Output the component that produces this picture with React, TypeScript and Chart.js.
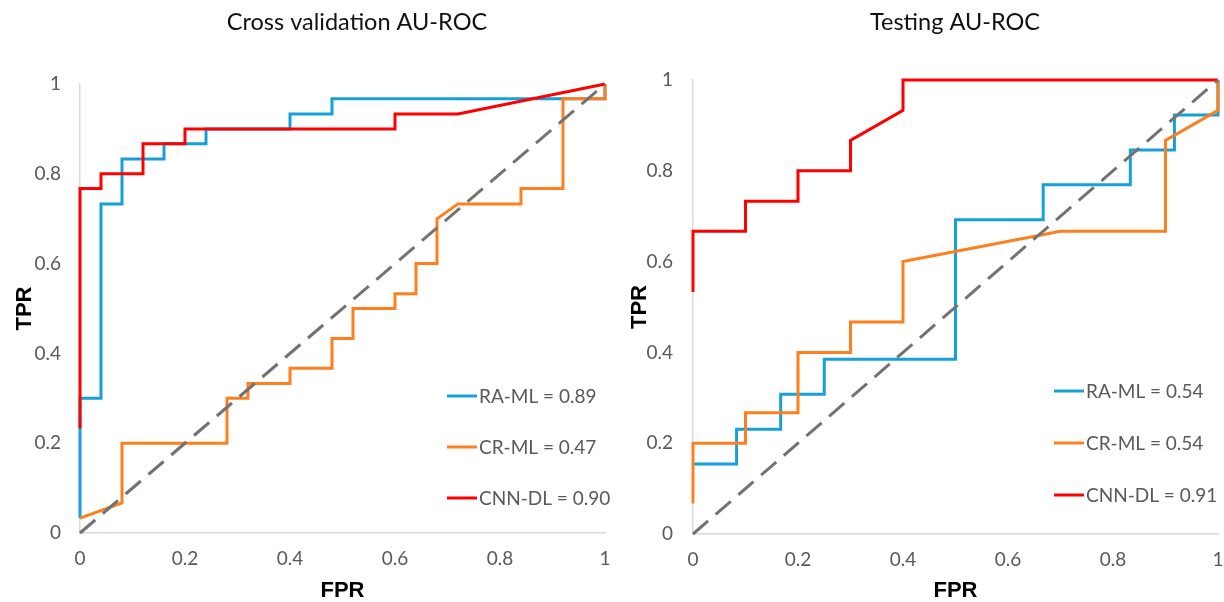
import React, { useEffect, useRef } from 'react';
import { Chart, registerables } from 'chart.js';

Chart.register(...registerables);

// ---------- data ----------
const tickValues = [0, 0.2, 0.4, 0.6, 0.8, 1];
const tickLabels = ['0', '0.2', '0.4', '0.6', '0.8', '1'];
const seriesNames = ['RA-ML', 'CR-ML', 'CNN-DL'];
const seriesColors = ['#16A0DA', '#FF7F1E', '#FF0000'];
const cvAuc = ['0.89', '0.47', '0.90'];
const testAuc = ['0.54', '0.54', '0.91'];
const diagFpr = [0, 1];
const diagTpr = [0, 1];

// Cross validation
const cvRaFpr = [0, 0, 0.04, 0.04, 0.08, 0.08, 0.16, 0.16, 0.24, 0.24, 0.4, 0.4, 0.48, 0.48, 1, 1];
const cvRaTpr = [0.033, 0.3, 0.3, 0.733, 0.733, 0.833, 0.833, 0.867, 0.867, 0.9, 0.9, 0.933, 0.933, 0.967, 0.967, 1];
const cvCrFpr = [0, 0.08, 0.08, 0.28, 0.28, 0.32, 0.32, 0.4, 0.4, 0.48, 0.48, 0.52, 0.52, 0.6, 0.6, 0.64, 0.64, 0.68, 0.68, 0.72, 0.84, 0.84, 0.92, 0.92, 1, 1];
const cvCrTpr = [0.033, 0.067, 0.2, 0.2, 0.3, 0.3, 0.333, 0.333, 0.367, 0.367, 0.433, 0.433, 0.5, 0.5, 0.533, 0.533, 0.6, 0.6, 0.7, 0.733, 0.733, 0.767, 0.767, 0.967, 0.967, 1];
const cvCnnFpr = [0, 0, 0.04, 0.04, 0.12, 0.12, 0.2, 0.2, 0.6, 0.6, 0.72, 1];
const cvCnnTpr = [0.233, 0.767, 0.767, 0.8, 0.8, 0.867, 0.867, 0.9, 0.9, 0.933, 0.933, 1];

// Testing
const teRaFpr = [0, 0.083, 0.083, 0.167, 0.167, 0.25, 0.25, 0.5, 0.5, 0.667, 0.667, 0.833, 0.833, 0.917, 0.917, 1, 1];
const teRaTpr = [0.154, 0.154, 0.231, 0.231, 0.308, 0.308, 0.385, 0.385, 0.692, 0.692, 0.769, 0.769, 0.846, 0.846, 0.923, 0.923, 1];
const teCrFpr = [0, 0, 0.1, 0.1, 0.2, 0.2, 0.3, 0.3, 0.4, 0.4, 0.7, 0.9, 0.9, 1, 1];
const teCrTpr = [0.067, 0.2, 0.2, 0.267, 0.267, 0.4, 0.4, 0.467, 0.467, 0.6, 0.667, 0.667, 0.867, 0.933, 1];
const teCnnFpr = [0, 0, 0.1, 0.1, 0.2, 0.2, 0.3, 0.3, 0.4, 0.4, 1];
const teCnnTpr = [0.533, 0.667, 0.667, 0.733, 0.733, 0.8, 0.8, 0.867, 0.933, 1, 1];

const zip = (xs: number[], ys: number[]) => xs.map((x, i) => ({ x, y: ys[i] }));

const decorPlugin = {
  id: 'rocDecor',
  afterDatasetsDraw(chart: any, _args: any, opts: any) {
    const ctx = chart.ctx;
    ctx.save();
    ctx.font = `${opts.titleSize}px Lato`;
    ctx.fillStyle = '#111111';
    ctx.textAlign = 'center';
    ctx.textBaseline = 'middle';
    ctx.fillText(opts.title, opts.titleX, opts.titleY);
    const items = chart.data.datasets.filter((d: any) => d.inLegend);
    items.forEach((d: any, i: number) => {
      const y = opts.legendY + i * opts.legendGap;
      ctx.strokeStyle = d.borderColor;
      ctx.lineWidth = 3;
      ctx.beginPath();
      ctx.moveTo(opts.legendX, y);
      ctx.lineTo(opts.legendX + 30, y);
      ctx.stroke();
      ctx.fillStyle = '#595959';
      ctx.font = `${opts.legendSize}px Lato`;
      ctx.textAlign = 'left';
      ctx.textBaseline = 'middle';
      ctx.fillText(d.label, opts.legendX + 32, y + 1);
    });
    ctx.restore();
  },
};

function makeConfig(p: any) {
  const curves = [
    { fpr: p.ra[0], tpr: p.ra[1] },
    { fpr: p.cr[0], tpr: p.cr[1] },
    { fpr: p.cnn[0], tpr: p.cnn[1] },
  ];
  const datasets: any[] = curves.map((c, i) => ({
    label: `${seriesNames[i]} = ${p.auc[i]}`,
    data: zip(c.fpr, c.tpr),
    borderColor: seriesColors[i],
    backgroundColor: seriesColors[i],
    borderWidth: 3,
    showLine: true,
    pointRadius: 0,
    tension: 0,
    clip: false,
    inLegend: true,
    order: [3, 2, 1][i],
  }));
  datasets.push({
    label: 'diag',
    data: zip(diagFpr, diagTpr),
    borderColor: '#767171',
    borderWidth: 3,
    borderDash: [20, 10],
    showLine: true,
    pointRadius: 0,
    clip: false,
    inLegend: false,
    order: 0,
  });
  const tickFont = { family: 'Lato', size: 19 };
  const titleFont = { family: 'Liberation Sans', size: 22, weight: 'bold' as const, lineHeight: 1 };
  return {
    type: 'scatter' as const,
    data: { datasets },
    options: {
      animation: false,
      responsive: false,
      layout: { padding: { top: p.top, right: p.right, left: 0, bottom: 0 } },
      plugins: {
        legend: { display: false },
        title: { display: false },
        tooltip: { enabled: false },
        rocDecor: p.decor,
      },
      scales: {
        x: {
          type: 'linear',
          min: 0,
          max: 1,
          afterBuildTicks: (s: any) => { s.ticks = tickValues.map((v) => ({ value: v })); },
          afterFit: (s: any) => { s.height = p.xAxisH; s.paddingLeft = 0; s.paddingRight = 0; },
          ticks: {
            callback: (_v: any, i: number) => tickLabels[i],
            color: '#595959',
            font: tickFont,
            padding: 14,
            maxRotation: 0,
          },
          grid: { display: false, drawTicks: false },
          border: { display: true, color: '#d9d9d9', width: 1.5 },
          title: { display: true, text: 'FPR', color: '#000', font: titleFont, padding: { top: 0, bottom: 0 } },
        },
        y: {
          type: 'linear',
          min: 0,
          max: 1,
          afterBuildTicks: (s: any) => { s.ticks = tickValues.map((v) => ({ value: v })); },
          afterFit: (s: any) => { s.width = p.yAxisW; s.paddingTop = 0; s.paddingBottom = 0; },
          ticks: {
            callback: (_v: any, i: number) => tickLabels[i],
            color: '#595959',
            font: tickFont,
            padding: p.yTickPad,
          },
          grid: { display: false, drawTicks: false },
          border: { display: true, color: '#d9d9d9', width: 1.5 },
          title: { display: true, text: 'TPR', color: '#000', font: titleFont, padding: { top: p.yTitlePad, bottom: 0 } },
        },
      },
    },
    plugins: [decorPlugin],
  };
}

function RocChart(props: { cfg: any }) {
  const ref = useRef<HTMLCanvasElement>(null);
  useEffect(() => {
    const chart = new Chart(ref.current as HTMLCanvasElement, makeConfig(props.cfg) as any);
    return () => chart.destroy();
  }, []);
  return <canvas ref={ref} width={612} height={602} style={{ display: 'block', width: 612, height: 602 }} />;
}

const leftCfg = {
  ra: [cvRaFpr, cvRaTpr],
  cr: [cvCrFpr, cvCrTpr],
  cnn: [cvCnnFpr, cvCnnTpr],
  auc: cvAuc,
  top: 84,
  right: 7,
  xAxisH: 69,
  yAxisW: 80,
  yTickPad: 19,
  yTitlePad: 14,
  decor: { title: 'Cross validation AU-ROC', titleX: 357, titleY: 22, titleSize: 23.5, legendX: 447, legendY: 396, legendGap: 51, legendSize: 19 },
};

const rightCfg = {
  ra: [teRaFpr, teRaTpr],
  cr: [teCrFpr, teCrTpr],
  cnn: [teCnnFpr, teCnnTpr],
  auc: testAuc,
  top: 80,
  right: 6,
  xAxisH: 68,
  yAxisW: 81,
  yTickPad: 20,
  yTitlePad: 17,
  decor: { title: 'Testing AU-ROC', titleX: 343, titleY: 22, titleSize: 23.5, legendX: 442, legendY: 391, legendGap: 52, legendSize: 19 },
};

export default function App() {
  return (
    <div style={{ position: 'absolute', left: 0, top: 0, width: 1224, height: 602, display: 'flex', background: '#fff' }}>
      <RocChart cfg={leftCfg} />
      <RocChart cfg={rightCfg} />
    </div>
  );
}
